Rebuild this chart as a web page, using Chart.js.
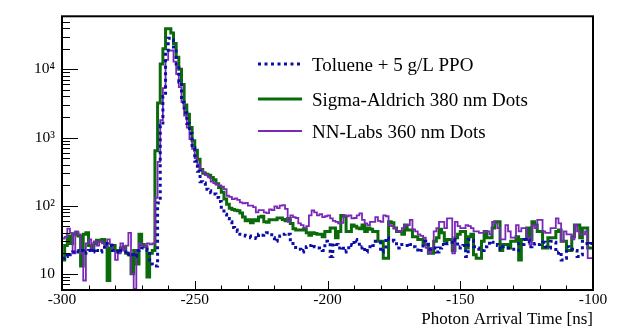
<!DOCTYPE html>
<html>
<head>
<meta charset="utf-8">
<title>Photon arrival time</title>
<script src="https://cdn.jsdelivr.net/npm/chart.js@4.4.1/dist/chart.umd.min.js"></script>
<style>
  html, body { margin: 0; padding: 0; background: #fff; }
</style>
</head>
<body>
<canvas id="timeChart" width="623" height="329"></canvas>
<script>
// binning: 1 ns bins, -300 .. -100 ns
const binStart = -300
const binWidth = 1
const xMin = -300
const xMax = -100
const yMin = 5.8
const yMax = 60000

// tick labels
const xTickValues = [-300, -250, -200, -150, -100]
const yTickValues = [10, 100, 1000, 10000]
const yTickLabels = ['10', '10²', '10³', '10⁴']

const seriesNames = ['Toluene + 5 g/L PPO', 'Sigma-Aldrich 380 nm Dots', 'NN-Labs 360 nm Dots']

// counts per bin
const tolueneCounts = [
  17, 18, 20, 19, 21, 22, 21, 22, 20, 21,
  22, 21, 23, 22, 21, 22, 28, 27, 26, 22,
  21, 23, 22, 21, 19, 20, 19, 18, 22, 23,
  24, 23, 22, 14, 13, 13, 110, 1500, 4000, 19000,
  28500, 27000, 20000, 12000, 6500, 3300, 2300, 1600, 1150, 700,
  450, 320, 225, 215, 175, 165, 155, 148, 132, 115,
  90, 75, 65, 58, 48, 44, 42, 38, 37, 36,
  36, 34, 34, 33, 38, 37, 38, 40, 40, 34,
  30, 31, 36, 38, 39, 38, 30, 26, 23, 23,
  21, 22, 25, 26, 27, 25, 24, 23, 22, 30,
  29, 18, 28, 27, 24, 25, 21, 22, 27, 26,
  32, 30, 24, 25, 21, 22, 27, 26, 30, 29,
  21, 22, 34, 32, 31, 30, 24, 25, 27, 26,
  28, 27, 25, 24, 21, 22, 30, 29, 23, 24,
  24, 21, 24, 27, 26, 28, 29, 32, 31, 24,
  25, 26, 18, 32, 31, 25, 24, 23, 22, 25,
  26, 30, 29, 27, 26, 23, 25, 24, 24, 23,
  23, 22, 28, 27, 32, 31, 25, 26, 28, 27,
  28, 29, 25, 24, 30, 29, 20, 21, 16, 17,
  25, 24, 23, 22, 18, 19, 30, 28, 27, 28
]

const sigmaCounts = [
  16, 26, 36, 28, 38, 40, 36, 13, 38, 40,
  26, 22, 28, 31, 30, 32, 28, 8, 24, 26,
  22, 21, 24, 25, 20, 19, 10, 22, 14, 38,
  27, 25, 9, 20, 22, 640, 3200, 12000, 20000, 39500,
  39500, 34000, 24000, 15000, 10000, 6000, 3000, 2200, 1400, 900,
  650, 480, 340, 300, 290, 280, 260, 240, 210, 185,
  158, 125, 105, 92, 88, 86, 84, 78, 68, 60,
  62, 56, 62, 60, 68, 70, 58, 57, 62, 62,
  62, 66, 66, 63, 60, 65, 55, 46, 44, 44,
  44, 46, 40, 37, 40, 39, 38, 38, 35, 42,
  42, 47, 47, 34, 42, 72, 70, 42, 42, 52,
  50, 47, 46, 52, 42, 47, 45, 42, 42, 30,
  30, 17, 17, 58, 56, 47, 42, 42, 38, 52,
  44, 44, 35, 35, 32, 32, 27, 27, 20, 20,
  30, 34, 45, 40, 30, 32, 32, 22, 34, 38,
  42, 42, 24, 35, 38, 19, 17, 17, 30, 42,
  34, 34, 47, 58, 58, 22, 27, 27, 24, 30,
  30, 35, 16, 32, 32, 47, 32, 58, 52, 42,
  42, 24, 24, 34, 34, 34, 42, 44, 30, 30,
  22, 22, 35, 52, 52, 34, 47, 47, 24, 24
]

const nnlabsCounts = [
  33, 35, 46, 40, 20, 42, 38, 20, 8, 28,
  32, 22, 30, 26, 30, 28, 25, 32, 27, 22,
  16, 20, 28, 22, 26, 40, 10, 6, 22, 28,
  26, 25, 28, 27, 28, 130, 440, 1800, 5300, 13800,
  18900, 18900, 13000, 8500, 5500, 3300, 2100, 1400, 950, 680,
  500, 400, 330, 310, 283, 260, 225, 215, 204, 198,
  190, 175, 140, 135, 125, 128, 122, 112, 108, 110,
  100, 100, 95, 80, 86, 86, 80, 78, 88, 86,
  98, 92, 100, 102, 90, 58, 72, 68, 66, 55,
  52, 47, 50, 72, 85, 80, 72, 75, 68, 70,
  72, 65, 60, 58, 55, 56, 72, 70, 72, 65,
  66, 72, 77, 62, 55, 52, 58, 58, 68, 60,
  58, 72, 70, 52, 50, 47, 42, 42, 47, 52,
  52, 62, 45, 42, 38, 36, 34, 24, 20, 24,
  42, 47, 58, 58, 47, 65, 65, 20, 58, 50,
  47, 47, 52, 50, 47, 42, 42, 40, 40, 42,
  42, 38, 58, 55, 47, 32, 32, 52, 42, 34,
  34, 52, 42, 47, 47, 34, 27, 52, 47, 62,
  62, 42, 40, 40, 47, 47, 65, 55, 30, 42,
  38, 38, 32, 52, 42, 38, 38, 42, 17, 17
]

const serif = '"Liberation Serif", "Times New Roman", serif'

// histogram -> step points (left bin edges + closing edge)
function toSteps(counts) {
  const pts = counts.map((c, i) => ({ x: binStart + i * binWidth, y: c }))
  pts.push({ x: binStart + counts.length * binWidth, y: counts[counts.length - 1] })
  return pts
}

// ROOT style frame with ticks pointing inwards
const rootFrame = {
  id: 'rootFrame',
  afterDatasetsDraw(chart) {
    const { ctx, chartArea: a, scales: { x, y } } = chart
    ctx.save()
    ctx.strokeStyle = '#000'
    ctx.lineWidth = 1
    ctx.beginPath()
    for (let v = xMin; v <= xMax; v += 10) {
      const px = Math.round(x.getPixelForValue(v)) + 0.5
      const len = v % 50 === 0 ? 9 : 4.5
      ctx.moveTo(px, a.bottom)
      ctx.lineTo(px, a.bottom - len)
    }
    for (let e = 0; e <= 4; e++) {
      for (let k = 1; k <= 9; k++) {
        const v = k * Math.pow(10, e)
        if (v < yMin || v > yMax) continue
        const py = Math.round(y.getPixelForValue(v)) + 0.5
        const len = k === 1 ? 16 : 8
        ctx.moveTo(a.left, py)
        ctx.lineTo(a.left + len, py)
      }
    }
    ctx.stroke()
    ctx.lineWidth = 2
    ctx.strokeRect(a.left, a.top, a.right - a.left, a.bottom - a.top)
    ctx.restore()
  }
}

// legend inside the frame, no box
const legendRows = [64, 99, 131]
const rootLegend = {
  id: 'rootLegend',
  afterDraw(chart) {
    const ctx = chart.ctx
    ctx.save()
    ctx.font = '19px ' + serif
    ctx.fillStyle = '#000'
    ctx.textBaseline = 'alphabetic'
    chart.data.datasets.forEach((ds, i) => {
      const yy = legendRows[i]
      ctx.strokeStyle = ds.borderColor
      ctx.lineWidth = ds.borderWidth
      ctx.setLineDash(ds.borderDash || [])
      ctx.beginPath()
      ctx.moveTo(258, yy)
      ctx.lineTo(302, yy)
      ctx.stroke()
      ctx.setLineDash([])
      ctx.fillText(ds.label, 312, yy + 6.5)
    })
    ctx.restore()
  }
}

const timeChart = new Chart(document.getElementById('timeChart'), {
  type: 'line',
  data: {
    datasets: [
      {
        label: seriesNames[0],
        data: toSteps(tolueneCounts),
        borderColor: '#0c0ca6',
        borderWidth: 3,
        borderDash: [3, 3.5],
        stepped: 'before',
        order: 0
      },
      {
        label: seriesNames[1],
        data: toSteps(sigmaCounts),
        borderColor: '#0b6b0b',
        borderWidth: 3,
        stepped: 'before',
        order: 2
      },
      {
        label: seriesNames[2],
        data: toSteps(nnlabsCounts),
        borderColor: '#7a28b8',
        borderWidth: 1.8,
        stepped: 'before',
        order: 1
      }
    ]
  },
  options: {
    responsive: false,
    animation: false,
    devicePixelRatio: 1,
    elements: {
      point: { radius: 0 },
      line: { tension: 0, borderCapStyle: 'butt', borderJoinStyle: 'miter' }
    },
    layout: { padding: { top: 8, right: 30, left: 0, bottom: 0 } },
    plugins: {
      legend: { display: false },
      tooltip: { enabled: false }
    },
    scales: {
      x: {
        type: 'linear',
        min: xMin,
        max: xMax,
        grid: { display: false, drawTicks: false },
        border: { display: false },
        afterBuildTicks: s => { s.ticks = xTickValues.map(v => ({ value: v })) },
        afterFit: s => { s.height = 39 },
        ticks: {
          padding: 1,
          color: '#000',
          maxRotation: 0,
          autoSkip: false,
          font: { family: serif, size: 15.5 },
          callback: v => String(v)
        },
        title: {
          display: true,
          text: 'Photon Arrival Time [ns]',
          align: 'end',
          color: '#000',
          font: { family: serif, size: 17 },
          padding: { top: 0, bottom: -1 }
        }
      },
      y: {
        type: 'logarithmic',
        min: yMin,
        max: yMax,
        grid: { display: false, drawTicks: false },
        border: { display: false },
        afterBuildTicks: s => { s.ticks = yTickValues.map(v => ({ value: v })) },
        afterFit: s => { s.width = 62 },
        ticks: {
          padding: 7,
          color: '#000',
          autoSkip: false,
          font: { family: serif, size: 15.5 },
          callback: (v, i) => yTickLabels[i]
        }
      }
    }
  },
  plugins: [rootFrame, rootLegend]
})
</script>
</body>
</html>
